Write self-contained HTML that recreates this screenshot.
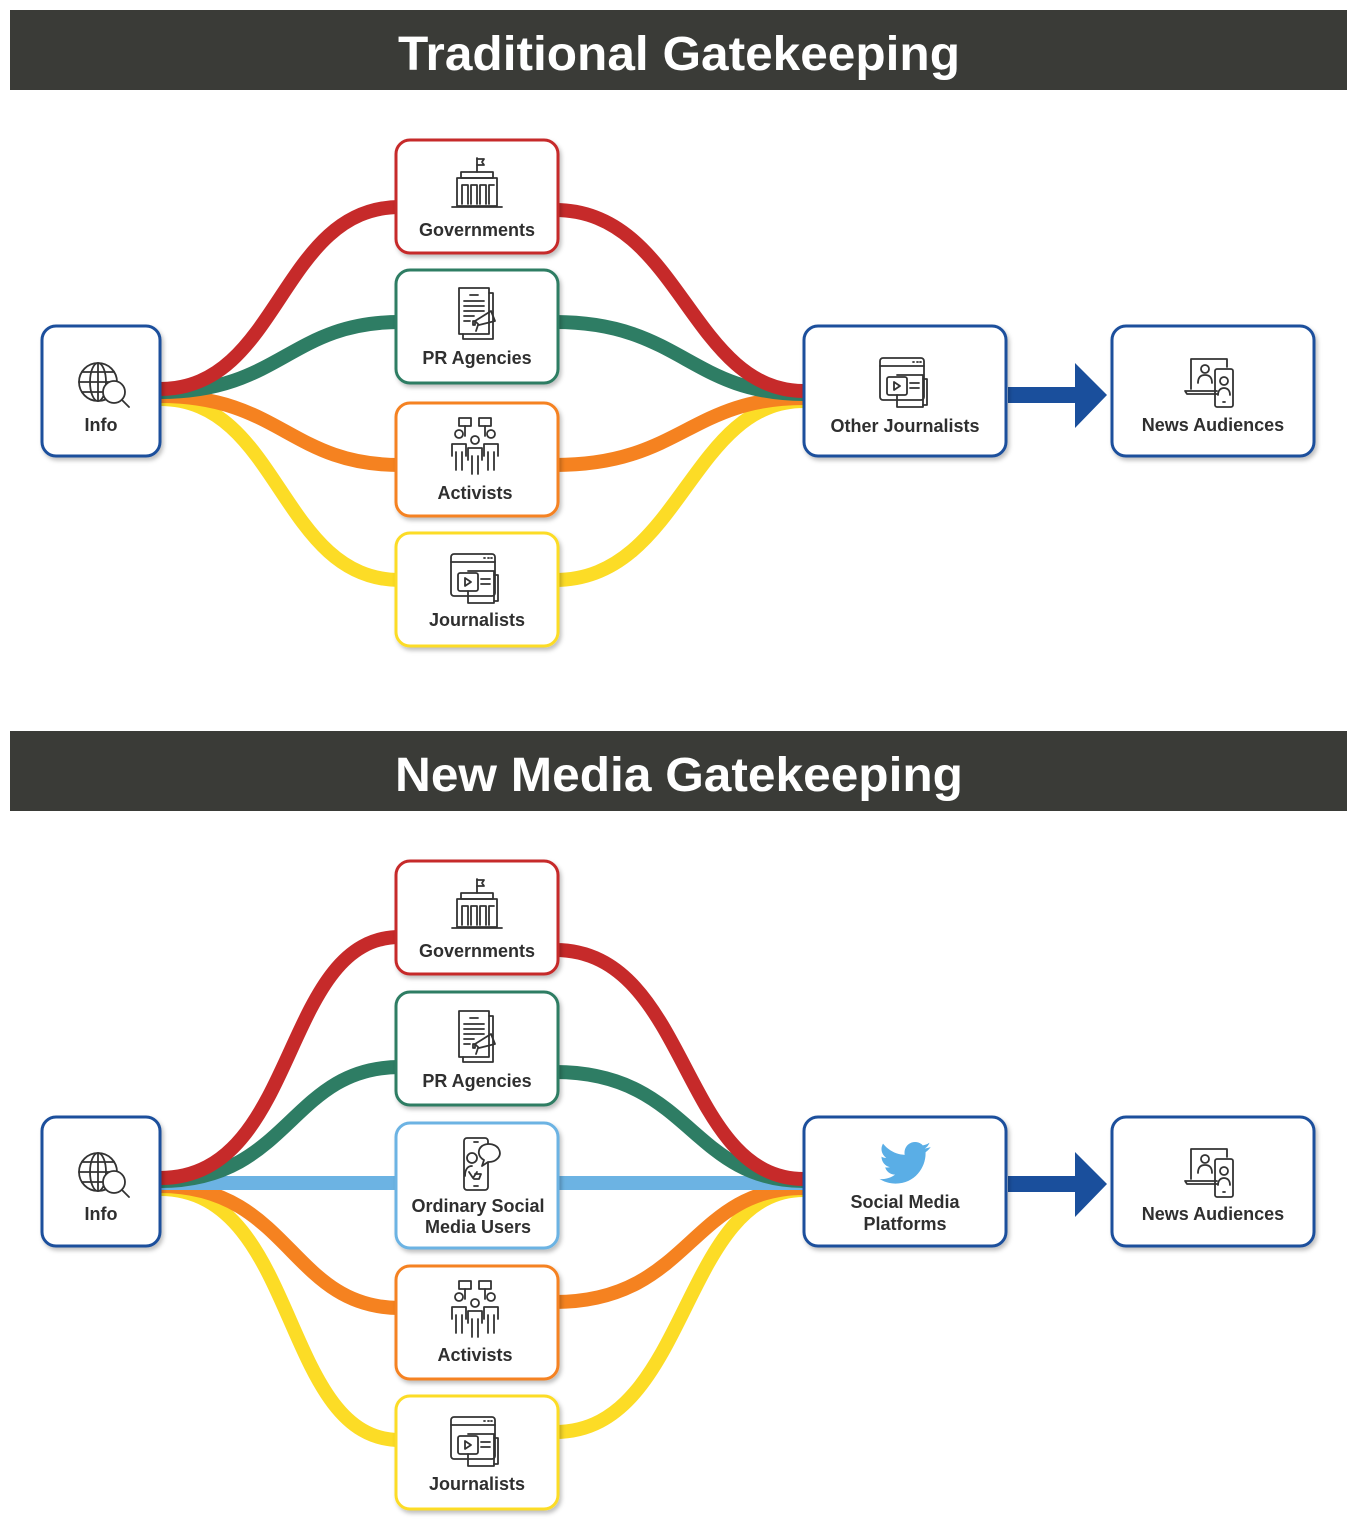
<!DOCTYPE html>
<html><head><meta charset="utf-8"><style>
html,body{margin:0;padding:0;background:#fff;}
svg{display:block;}
text{font-family:"Liberation Sans",sans-serif;}
.lbl{font-size:18px;font-weight:bold;fill:#2f2f2f;text-anchor:middle;}
.ttl{font-size:48px;font-weight:bold;fill:#fff;text-anchor:middle;}
.c{fill:none;stroke-width:14;}
.ic{fill:none;stroke:#333;stroke-width:1.8;stroke-linejoin:round;stroke-linecap:round;}
</style></head><body>
<svg width="1356" height="1536" viewBox="0 0 1356 1536" xmlns="http://www.w3.org/2000/svg">
<defs>
<filter id="sh" x="-10%" y="-10%" width="130%" height="130%"><feDropShadow dx="2" dy="3" stdDeviation="2" flood-color="#000" flood-opacity="0.25"/></filter>
<g id="i-gov" class="ic"><path d="M28 16V2"/><path d="M28 3h7l-2 3 2 3h-7"/><rect x="12" y="16" width="32" height="6"/><path d="M8 22h40v28H8z"/><path d="M13 48V29h6v19M22 48V29h6v19M31 48V29h6v19M40 48V29h5"/><path d="M3 51h50"/></g>
<g id="i-pr" class="ic"><rect x="10" y="3" width="30" height="46"/><path d="M40 8h4v46H14v-5"/><path d="M21 10h8M15 16h20M15 21h20M15 26h20M15 31h10M15 36h6"/><path d="M26 36l16-10 4 10-16 4z"/><path d="M24 36h2v4h-2z"/><path d="M29 40l-2 6"/></g>
<g id="i-act" class="ic"><rect x="12" y="2" width="12" height="8"/><rect x="32" y="2" width="12" height="8"/><path d="M18 10v10M38 10v10"/><circle cx="12" cy="18" r="4"/><circle cx="44" cy="18" r="4"/><circle cx="28" cy="24" r="4"/><path d="M5 40V28h14v12M9 54V36M15 54V36M37 40V28h14v12M41 54V36M47 54V36"/><path d="M21 44V32h14v12M25 58V40M31 58V40"/></g>
<g id="i-jour" class="ic"><rect x="3" y="3" width="44" height="42" rx="3"/><path d="M3 11h44M36 7h1M40 7h1M43 7h1"/><rect x="10" y="22" width="20" height="18" rx="2"/><path d="M17 27v8l6-4z"/><path d="M20 20h26v32H20v-12M33 28h9M33 33h9"/><path d="M46 24h4v26h-4"/></g>
<g id="i-info" class="ic"><circle cx="22" cy="24" r="19"/><ellipse cx="22" cy="24" rx="8" ry="19"/><path d="M3 24h38M6 14h32M6 34h26M22 5v38"/><circle cx="38" cy="34" r="11" fill="#fff"/><path d="M46 42l7 7"/></g>
<g id="i-aud" class="ic"><path d="M8 34V4h36v8"/><path d="M2 36h32M2 36l2 3h30"/><circle cx="22" cy="14" r="4"/><path d="M15 28c0-6 3-8 7-8s7 2 7 8"/><rect x="32" y="14" width="18" height="38" rx="2"/><circle cx="41" cy="26" r="4"/><path d="M35 40c0-5 3-7 6-7s6 2 6 7"/><path d="M40 47h2"/></g>
<g id="i-osu" class="ic"><rect x="6" y="2" width="24" height="52" rx="3"/><path d="M16 6h4M16 50h4"/><circle cx="14" cy="22" r="5"/><path d="M7 40c0-7 3-10 7-10"/><path d="M24 10a11 9 0 1 1 6 16l-6 4 2-6a11 9 0 0 1-2-14z" fill="#fff"/><path d="M11 36l4 6 4-6M17 38h6l-2 5h-5"/></g>
<path id="tw" d="M23.6 4.6c-.9.4-1.8.6-2.8.8 1-.6 1.8-1.6 2.2-2.7-1 .6-2 1-3.1 1.2-.9-1-2.2-1.6-3.6-1.6-2.7 0-4.9 2.2-4.9 4.9 0 .4 0 .8.1 1.1C7.4 8.1 3.8 6.1 1.4 3.1c-.4.7-.7 1.6-.7 2.5 0 1.7.9 3.2 2.2 4.1-.8 0-1.600-.2-2.2-.6v.1c0 2.4 1.7 4.4 3.9 4.8-.4.1-.8.2-1.3.2-.3 0-.6 0-.9-.1.6 2 2.4 3.4 4.6 3.4-1.7 1.3-3.800 2.1-6.1 2.1-.4 0-.8 0-1.2-.1 2.2 1.4 4.8 2.2 7.5 2.2 9.1 0 14-7.500 14-14v-.6c1-.7 1.8-1.6 2.4-2.5z" fill="#5aaee6"/>
</defs>

<rect x="10" y="10" width="1337" height="80" fill="#3a3b37"/>
<text class="ttl" x="679" y="70" textLength="562" lengthAdjust="spacingAndGlyphs">Traditional Gatekeeping</text>
<rect x="10" y="731" width="1337" height="80" fill="#3a3b37"/>
<text class="ttl" x="679" y="791" textLength="568" lengthAdjust="spacingAndGlyphs">New Media Gatekeeping</text>

<path class="c" stroke="#fcdc26" d="M160,399 C280,399 280,580 400,580 L555,580 C680,580 690,401 804,401"/>
<path class="c" stroke="#f58220" d="M160,396 C280,396 290,465 400,465 L555,465 C680,465 690,398 804,398"/>
<path class="c" stroke="#2e7d64" d="M160,392 C280,392 290,322 400,322 L555,322 C680,322 690,394 804,394"/>
<path class="c" stroke="#c62a2a" d="M160,389 C280,389 280,207 400,207 L555,210 C680,210 690,391 804,391"/>

<path class="c" stroke="#fcdc26" d="M160,1189 C300,1189 280,1440 400,1440 L555,1432 C690,1432 680,1190 804,1190"/>
<path class="c" stroke="#f58220" d="M160,1186 C290,1186 290,1308 400,1308 L555,1302 C690,1302 690,1188 804,1188"/>
<path class="c" stroke="#6cb3e3" d="M160,1183 L804,1183"/>
<path class="c" stroke="#2e7d64" d="M160,1181 C290,1181 290,1067 400,1067 L555,1072 C690,1072 690,1181 804,1181"/>
<path class="c" stroke="#c62a2a" d="M160,1178 C300,1178 280,937 400,937 L555,950 C690,950 680,1179 804,1179"/>

<polygon points="1008,387 1075,387 1075,363 1107,395 1075,428 1075,403 1008,403" fill="#1a4f9c"/>
<polygon points="1008,1176 1075,1176 1075,1152 1107,1184 1075,1217 1075,1192 1008,1192" fill="#1a4f9c"/>

<g stroke-width="3" fill="#fff" filter="url(#sh)">
<rect x="42" y="326" width="118" height="130" rx="14" stroke="#1a4f9c"/>
<rect x="396" y="140" width="162" height="113" rx="14" stroke="#c62a2a"/>
<rect x="396" y="270" width="162" height="113" rx="14" stroke="#2e7d64"/>
<rect x="396" y="403" width="162" height="113" rx="14" stroke="#f58220"/>
<rect x="396" y="533" width="162" height="113" rx="14" stroke="#fcdc26"/>
<rect x="804" y="326" width="202" height="130" rx="14" stroke="#1a4f9c"/>
<rect x="1112" y="326" width="202" height="130" rx="14" stroke="#1a4f9c"/>
<rect x="42" y="1117" width="118" height="129" rx="14" stroke="#1a4f9c"/>
<rect x="396" y="861" width="162" height="113" rx="14" stroke="#c62a2a"/>
<rect x="396" y="992" width="162" height="113" rx="14" stroke="#2e7d64"/>
<rect x="396" y="1123" width="162" height="125" rx="14" stroke="#6cb3e3"/>
<rect x="396" y="1266" width="162" height="113" rx="14" stroke="#f58220"/>
<rect x="396" y="1396" width="162" height="113" rx="14" stroke="#fcdc26"/>
<rect x="804" y="1117" width="202" height="129" rx="14" stroke="#1a4f9c"/>
<rect x="1112" y="1117" width="202" height="129" rx="14" stroke="#1a4f9c"/>
</g>

<use href="#i-info" x="76" y="358"/>
<use href="#i-gov" x="449" y="156"/>
<use href="#i-pr" x="449" y="285"/>
<use href="#i-act" x="447" y="416"/>
<use href="#i-jour" x="448" y="551"/>
<use href="#i-jour" x="877" y="355"/>
<use href="#i-aud" x="1183" y="355"/>
<use href="#i-info" x="76" y="1148"/>
<use href="#i-gov" x="449" y="877"/>
<use href="#i-pr" x="449" y="1008"/>
<use href="#i-osu" x="458" y="1136"/>
<use href="#i-act" x="447" y="1279"/>
<use href="#i-jour" x="448" y="1414"/>
<use href="#i-aud" x="1183" y="1145"/>
<use href="#tw" transform="translate(880,1137) scale(2.15)"/>

<text class="lbl" x="101" y="431">Info</text>
<text class="lbl" x="477" y="236">Governments</text>
<text class="lbl" x="477" y="364">PR Agencies</text>
<text class="lbl" x="475" y="499">Activists</text>
<text class="lbl" x="477" y="626">Journalists</text>
<text class="lbl" x="905" y="432">Other Journalists</text>
<text class="lbl" x="1213" y="431">News Audiences</text>
<text class="lbl" x="101" y="1220">Info</text>
<text class="lbl" x="477" y="957">Governments</text>
<text class="lbl" x="477" y="1087">PR Agencies</text>
<text class="lbl" x="478" y="1212">Ordinary Social</text>
<text class="lbl" x="478" y="1233">Media Users</text>
<text class="lbl" x="475" y="1361">Activists</text>
<text class="lbl" x="477" y="1490">Journalists</text>
<text class="lbl" x="905" y="1208">Social Media</text>
<text class="lbl" x="905" y="1230">Platforms</text>
<text class="lbl" x="1213" y="1220">News Audiences</text>
</svg>
</body></html>
